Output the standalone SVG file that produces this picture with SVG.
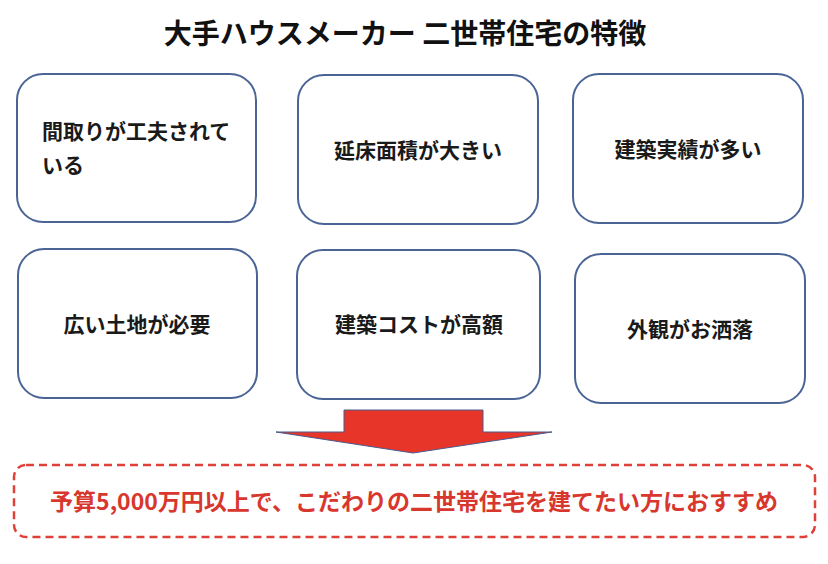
<svg xmlns="http://www.w3.org/2000/svg" width="828" height="564" viewBox="0 0 828 564">
  <style>
    .box { fill: #ffffff; stroke: #4A6496; stroke-width: 2; }
    .lbl { font-family: "Noto Sans CJK JP", "Noto Sans", sans-serif; font-size: 21px; font-weight: 600; fill: #1a1a1a; }
    .mid { text-anchor: middle; }
    .title { font-family: "Noto Sans CJK JP", "Noto Sans", sans-serif; font-size: 28px; font-weight: 700; fill: #111111; text-anchor: middle; }
    .rec { font-family: "Noto Sans CJK JP", "Noto Sans", sans-serif; font-size: 23px; font-weight: 700; fill: #D8372E; text-anchor: middle; }
  </style>
  <rect width="828" height="564" fill="#ffffff"/>
  <text class="title" x="405" y="44">大手ハウスメーカー 二世帯住宅の特徴</text>

  <g id="node-madori">
    <rect class="box" x="17" y="74" width="239" height="148" rx="26"/>
    <text class="lbl" x="42" y="139">間取りが工夫されて</text>
    <text class="lbl" x="42" y="173">いる</text>
  </g>
  <g id="node-nobeyuka">
    <rect class="box" x="298" y="75" width="240" height="149" rx="26"/>
    <text class="lbl mid" x="418" y="158">延床面積が大きい</text>
  </g>
  <g id="node-jisseki">
    <rect class="box" x="573" y="74" width="230" height="149" rx="26"/>
    <text class="lbl mid" x="688" y="157">建築実績が多い</text>
  </g>
  <g id="node-tochi">
    <rect class="box" x="18" y="249" width="239" height="149" rx="26"/>
    <text class="lbl mid" x="137" y="332">広い土地が必要</text>
  </g>
  <g id="node-cost">
    <rect class="box" x="297" y="250" width="243" height="149" rx="26"/>
    <text class="lbl mid" x="419" y="332">建築コストが高額</text>
  </g>
  <g id="node-gaikan">
    <rect class="box" x="575" y="254" width="230" height="149" rx="26"/>
    <text class="lbl mid" x="690" y="337">外観がお洒落</text>
  </g>

  <g id="connectors">
    <polygon points="344,410 483,410 483,432 552,432 413,453 276,432 344,432" fill="#E8352A" stroke="#4A5A8A" stroke-width="1"/>
  </g>

  <g id="node-recommend">
    <rect x="14" y="465" width="801" height="72" rx="12" fill="none" stroke="#E0403A" stroke-width="2.5" stroke-dasharray="8 5"/>
    <text class="rec" x="414" y="510">予算5,000万円以上で、こだわりの二世帯住宅を建てたい方におすすめ</text>
  </g>
</svg>
